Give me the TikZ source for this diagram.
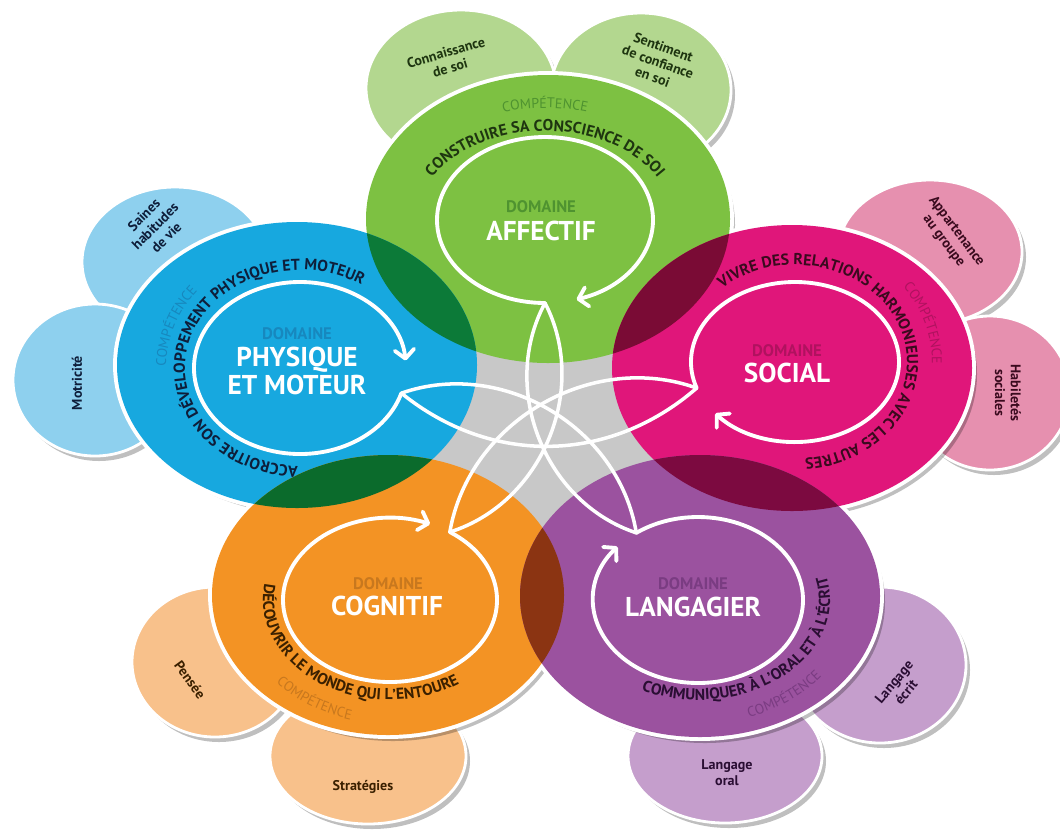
\documentclass[tikz,border=0pt]{standalone}
\usepackage{fontspec}
\setmainfont{PT Sans}
\setsansfont{PT Sans}
\usetikzlibrary{arrows.meta,decorations.text}

\definecolor{affGreen}{HTML}{7DC142}
\definecolor{affLight}{HTML}{B3D78F}
\definecolor{affTint}{HTML}{4F9330}
\definecolor{affText}{HTML}{1E3510}
\definecolor{phyBlue}{HTML}{17A8DF}
\definecolor{phyLight}{HTML}{8ED0EE}
\definecolor{phyTint}{HTML}{1788BE}
\definecolor{phyText}{HTML}{0E1E3A}
\definecolor{socPink}{HTML}{E0167A}
\definecolor{socLight}{HTML}{E690AF}
\definecolor{socTint}{HTML}{B0125F}
\definecolor{socText}{HTML}{3A0A1E}
\definecolor{cogOrange}{HTML}{F39324}
\definecolor{cogLight}{HTML}{F8C18B}
\definecolor{cogTint}{HTML}{C8781E}
\definecolor{cogText}{HTML}{3A2000}
\definecolor{lanPurple}{HTML}{9B529F}
\definecolor{lanLight}{HTML}{C59ECC}
\definecolor{lanTint}{HTML}{7A3C82}
\definecolor{lanText}{HTML}{2A0E33}
\definecolor{centreGray}{HTML}{C8C8C8}
\definecolor{ovAffPhy}{HTML}{0C7A38}
\definecolor{ovAffSoc}{HTML}{7A0B35}
\definecolor{ovPhyCog}{HTML}{0B6B2C}
\definecolor{ovSocLan}{HTML}{7C0A40}
\definecolor{ovCogLan}{HTML}{8B3412}

\newcommand{\ringfont}{\bfseries\fontsize{9}{9}\selectfont}
\newcommand{\compfont}{\fontsize{8}{8}\selectfont}
% text set along an arc of an ellipse: centre, x radius, y radius, start, end, colour, font, text
\newcommand{\ringtext}[8]{%
  \path[decorate, decoration={text along path, text align=center, text color=#6, text={|#7|#8}}]
    ([shift={(#4:#2 and #3)}]#1) arc[start angle=#4, end angle=#5, x radius=#2, y radius=#3];}

\begin{document}
\begin{tikzpicture}[x=0.02cm, y=-0.02cm,
    satellite/.style={draw=white, line width=1.6pt},
    satShadow/.style={fill=black, opacity=0.25},
    bigDisc/.style={draw=white, line width=4.5pt},
    linkLine/.style={white, line width=2pt, line cap=round},
    cycleArrow/.style={white, line width=2.2pt, line cap=round, -{Straight Barb[length=5pt, width=11pt, round]}},
    satlabel/.style={font=\bfseries\fontsize{8}{9}\selectfont, align=center},
    domainlabel/.style={font=\bfseries\fontsize{9.5}{10}\selectfont},
    domainname/.style={font=\bfseries\fontsize{15.5}{16}\selectfont, text=white, align=center}
  ]
  \useasboundingbox (0,0) rectangle (1060,833);

  % Centres
  \coordinate (cAff) at (548,219);
  \coordinate (cPhy) at (297,365);
  \coordinate (cSoc) at (792,368);
  \coordinate (cCog) at (388,595);
  \coordinate (cLan) at (700,596);
  \coordinate (iAff) at (545,220);
  \coordinate (iPhy) at (300,368);
  \coordinate (iSoc) at (795,362);
  \coordinate (iCog) at (390,600);
  \coordinate (iLan) at (698,600);
  \coordinate (satConn) at (461,88);
  \coordinate (satSent) at (641,90);
  \coordinate (satSaines) at (175,262);
  \coordinate (satMotr) at (95,380);
  \coordinate (satApp) at (930,252);
  \coordinate (satHab) at (990,393);
  \coordinate (satPens) at (215,662);
  \coordinate (satStrat) at (368,756);
  \coordinate (satEcrit) at (880,665);
  \coordinate (satOral) at (725,756);

  % Satellites
  \fill[satShadow] ([shift={(4,5)}]satConn) ellipse [x radius=95, y radius=78];
  \fill[satShadow] ([shift={(4,5)}]satSent) ellipse [x radius=90, y radius=77];
  \fill[satShadow] ([shift={(4,5)}]satSaines) ellipse [x radius=93, y radius=75];
  \fill[satShadow] ([shift={(4,5)}]satMotr) ellipse [x radius=82, y radius=76];
  \fill[satShadow] ([shift={(4,5)}]satApp) ellipse [x radius=92, y radius=72];
  \fill[satShadow] ([shift={(4,5)}]satHab) ellipse [x radius=80, y radius=77];
  \fill[satShadow] ([shift={(4,5)}]satPens) ellipse [x radius=83, y radius=75];
  \fill[satShadow] ([shift={(4,5)}]satStrat) ellipse [x radius=98, y radius=68];
  \fill[satShadow] ([shift={(4,5)}]satEcrit) ellipse [x radius=86, y radius=78];
  \fill[satShadow] ([shift={(4,5)}]satOral) ellipse [x radius=97, y radius=67];
  \path[satellite, fill=affLight] (satConn) ellipse [x radius=95, y radius=78];
  \path[satellite, fill=affLight] (satSent) ellipse [x radius=90, y radius=77];
  \path[satellite, fill=phyLight] (satSaines) ellipse [x radius=93, y radius=75];
  \path[satellite, fill=phyLight] (satMotr) ellipse [x radius=82, y radius=76];
  \path[satellite, fill=socLight] (satApp) ellipse [x radius=92, y radius=72];
  \path[satellite, fill=socLight] (satHab) ellipse [x radius=80, y radius=77];
  \path[satellite, fill=cogLight] (satPens) ellipse [x radius=83, y radius=75];
  \path[satellite, fill=cogLight] (satStrat) ellipse [x radius=98, y radius=68];
  \path[satellite, fill=lanLight] (satEcrit) ellipse [x radius=86, y radius=78];
  \path[satellite, fill=lanLight] (satOral) ellipse [x radius=97, y radius=67];

  \node[satlabel, text=affText, rotate=16] (lblConn) at (448,60) {Connaissance\\de soi};
  \node[satlabel, text=affText, rotate=-20] (lblSent) at (658,62) {Sentiment\\de confiance\\en soi};
  \node[satlabel, text=phyText, rotate=45] (lblSaines) at (155,226) {Saines\\habitudes\\de vie};
  \node[satlabel, text=phyText, rotate=90] (lblMotr) at (77,383) {Motricité};
  \node[satlabel, text=socText, rotate=-53] (lblApp) at (950,236) {Appartenance\\au groupe};
  \node[satlabel, text=socText, rotate=-90] (lblHab) at (1008,393) {Habiletés\\sociales};
  \node[satlabel, text=cogText, rotate=-54] (lblPens) at (190,680) {Pensée};
  \node[satlabel, text=cogText] (lblStrat) at (363,787) {Stratégies};
  \node[satlabel, text=lanText, rotate=50] (lblEcrit) at (900,687) {Langage\\écrit};
  \node[satlabel, text=lanText] (lblOral) at (727,773) {Langage\\oral};

  % Big discs: shadows, white rims, centre, fills
  \fill[satShadow] ([shift={(5,6)}]cAff) ellipse [x radius=182, y radius=144];
  \fill[satShadow] ([shift={(5,6)}]cPhy) ellipse [x radius=180, y radius=143];
  \fill[satShadow] ([shift={(5,6)}]cSoc) ellipse [x radius=180, y radius=143];
  \fill[satShadow] ([shift={(5,6)}]cCog) ellipse [x radius=176, y radius=140];
  \fill[satShadow] ([shift={(5,6)}]cLan) ellipse [x radius=180, y radius=141];
  \path[bigDisc, fill=affGreen] (cAff) ellipse [x radius=182, y radius=144];
  \path[bigDisc, fill=phyBlue] (cPhy) ellipse [x radius=180, y radius=143];
  \path[bigDisc, fill=socPink] (cSoc) ellipse [x radius=180, y radius=143];
  \path[bigDisc, fill=cogOrange] (cCog) ellipse [x radius=176, y radius=140];
  \path[bigDisc, fill=lanPurple] (cLan) ellipse [x radius=180, y radius=141];
  \fill[centreGray] (545,430) ellipse [x radius=150, y radius=125];
  \fill[affGreen] (cAff) ellipse [x radius=182, y radius=144];
  \fill[phyBlue] (cPhy) ellipse [x radius=180, y radius=143];
  \fill[socPink] (cSoc) ellipse [x radius=180, y radius=143];
  \fill[cogOrange] (cCog) ellipse [x radius=176, y radius=140];
  \fill[lanPurple] (cLan) ellipse [x radius=180, y radius=141];

  % Overlaps
  \begin{scope}
    \clip (cAff) ellipse [x radius=182, y radius=144];
    \fill[ovAffPhy] (cPhy) ellipse [x radius=180, y radius=143];
    \fill[ovAffSoc] (cSoc) ellipse [x radius=180, y radius=143];
  \end{scope}
  \begin{scope}
    \clip (cPhy) ellipse [x radius=180, y radius=143];
    \fill[ovPhyCog] (cCog) ellipse [x radius=176, y radius=140];
  \end{scope}
  \begin{scope}
    \clip (cSoc) ellipse [x radius=180, y radius=143];
    \fill[ovSocLan] (cLan) ellipse [x radius=180, y radius=141];
  \end{scope}
  \begin{scope}
    \clip (cCog) ellipse [x radius=176, y radius=140];
    \fill[ovCogLan] (cLan) ellipse [x radius=180, y radius=141];
  \end{scope}

  % Competences along the rings
  \ringtext{iAff}{128}{89}{190}{350}{affText}{\ringfont}{CONSTRUIRE SA CONSCIENCE DE SOI}
  \ringtext{iAff}{152}{112}{225}{315}{affTint}{\compfont}{COMPÉTENCE}
  \ringtext{iPhy}{115}{98}{80}{314}{phyText}{\ringfont}{ACCROITRE SON DÉVELOPPEMENT PHYSIQUE ET MOTEUR}
  \ringtext{iPhy}{134}{120}{165}{235}{phyTint}{\compfont}{COMPÉTENCE}
  \ringtext{iSoc}{112}{97}{222}{452}{socText}{\ringfont}{VIVRE DES RELATIONS HARMONIEUSES AVEC LES AUTRES}
  \ringtext{iSoc}{137}{122}{307}{377}{socTint}{\compfont}{COMPÉTENCE}
  \ringtext{iCog}{127}{100}{202}{46}{cogText}{\ringfont}{DÉCOUVRIR LE MONDE QUI L'ENTOURE}
  \ringtext{iCog}{152}{124}{158}{88}{cogTint}{\compfont}{COMPÉTENCE}
  \ringtext{iLan}{132}{100}{122}{-22}{lanText}{\ringfont}{COMMUNIQUER À L'ORAL ET À L'ÉCRIT}
  \ringtext{iLan}{157}{124}{88}{18}{lanTint}{\compfont}{COMPÉTENCE}

  % Inner loops and the star between them
  \coordinate (ptAff) at ([shift={(90:108 and 83)}]iAff);
  \coordinate (ptPhy) at ([shift={(17:106 and 86)}]iPhy);
  \coordinate (ptSoc) at ([shift={(161:104 and 80)}]iSoc);
  \coordinate (ptCog) at ([shift={(304:107 and 82)}]iCog);
  \coordinate (ptLan) at ([shift={(234:105 and 83)}]iLan);
  \draw[cycleArrow] (ptAff) arc [start angle=90, end angle=433, x radius=108, y radius=83];
  \draw[cycleArrow] (ptPhy) arc [start angle=17, end angle=355, x radius=106, y radius=86];
  \draw[cycleArrow] (ptSoc) arc [start angle=161, end angle=500, x radius=104, y radius=80];
  \draw[cycleArrow] (ptCog) arc [start angle=304, end angle=652, x radius=107, y radius=82];
  \draw[cycleArrow] (ptLan) arc [start angle=234, end angle=580, x radius=105, y radius=83];
  \draw[linkLine] (ptAff) to[bend right=50] (ptLan);
  \draw[linkLine] (ptLan) to[bend right=50] (ptPhy);
  \draw[linkLine] (ptPhy) to[bend right=40] (ptSoc);
  \draw[linkLine] (ptSoc) to[bend right=50] (ptCog);
  \draw[linkLine] (ptCog) to[bend right=50] (ptAff);

  % Domains
  \node[domainlabel, text=affTint] (domAff) at (541,207) {DOMAINE};
  \node[domainname] (nameAff) at (541,231) {AFFECTIF};
  \node[domainlabel, text=phyTint] (domPhy) at (297,334) {DOMAINE};
  \node[domainname] (namePhy) at (297,371) {PHYSIQUE\\ET MOTEUR};
  \node[domainlabel, text=socTint] (domSoc) at (787,351) {DOMAINE};
  \node[domainname] (nameSoc) at (787,373) {SOCIAL};
  \node[domainlabel, text=cogTint] (domCog) at (388,584) {DOMAINE};
  \node[domainname] (nameCog) at (387,606) {COGNITIF};
  \node[domainlabel, text=lanTint] (domLan) at (693,584) {DOMAINE};
  \node[domainname] (nameLan) at (693,607) {LANGAGIER};
\end{tikzpicture}
\end{document}
